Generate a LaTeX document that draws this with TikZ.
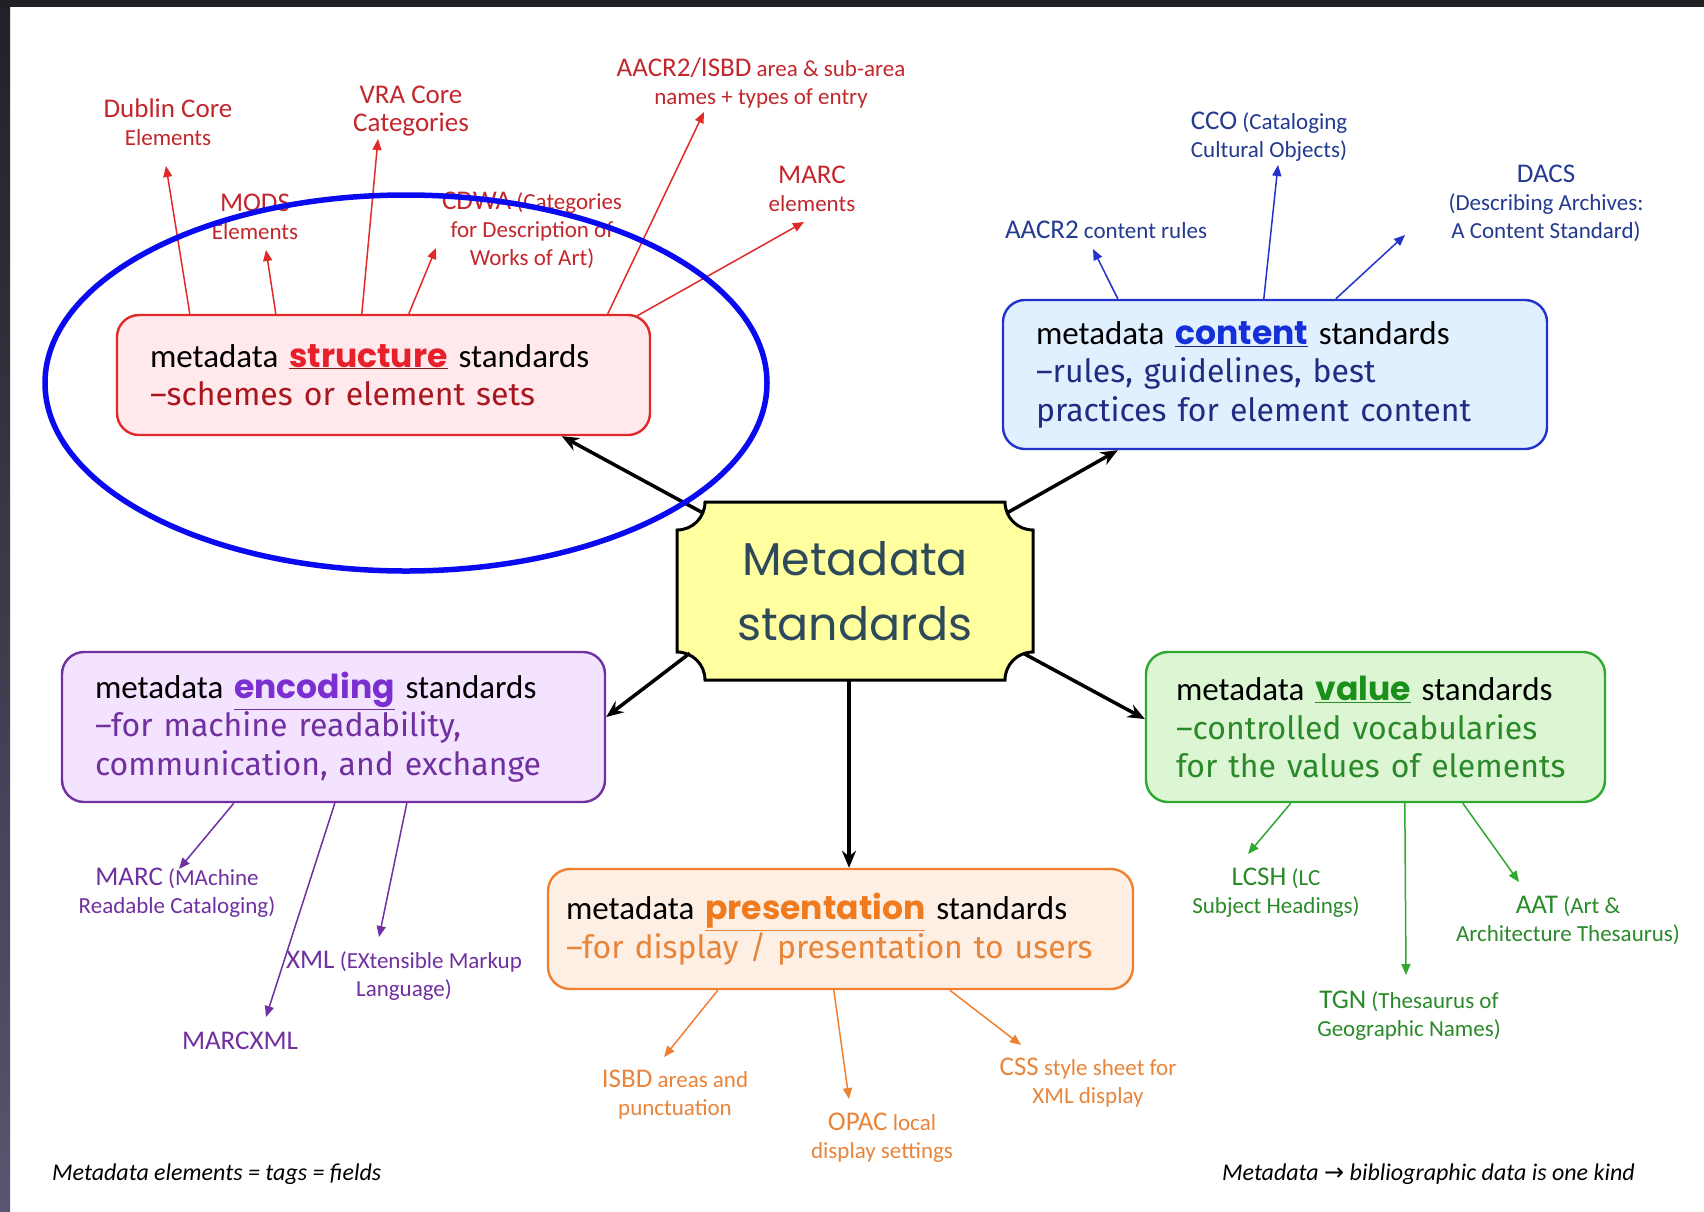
\documentclass[tikz,border=0pt]{standalone}
\usepackage{fontspec}
\setmainfont{Carlito}
\newfontfamily\handfont{Fira Sans}
\newfontfamily\keyfont{Poppins}
\newfontfamily\titlefont{Poppins}
\newfontfamily\symfont{DejaVu Sans}
\usepackage{tikz}
\usetikzlibrary{arrows.meta}
\usetikzlibrary{calc}
\usetikzlibrary{positioning}

\definecolor{strEdge}{HTML}{E02A2A}
\definecolor{strFill}{HTML}{FFE9EC}
\definecolor{strText}{HTML}{A8161E}
\definecolor{strKey}{HTML}{E8202A}
\definecolor{strUl}{HTML}{8B1A1A}
\definecolor{strLbl}{HTML}{C2272D}
\definecolor{conEdge}{HTML}{2233CC}
\definecolor{conFill}{HTML}{E1F0FF}
\definecolor{conText}{HTML}{1F2C80}
\definecolor{conKey}{HTML}{1530D8}
\definecolor{conLbl}{HTML}{233A8F}
\definecolor{encEdge}{HTML}{7030A0}
\definecolor{encFill}{HTML}{F3E3FF}
\definecolor{encText}{HTML}{7030A0}
\definecolor{encKey}{HTML}{7B2FD0}
\definecolor{valEdge}{HTML}{2EA82E}
\definecolor{valFill}{HTML}{DCF6D4}
\definecolor{valText}{HTML}{2A8A2A}
\definecolor{valKey}{HTML}{1A8F1A}
\definecolor{preEdge}{HTML}{F08030}
\definecolor{preFill}{HTML}{FEEFE4}
\definecolor{preText}{HTML}{E8853A}
\definecolor{preKey}{HTML}{F07A1E}
\definecolor{titleText}{HTML}{2E4A5A}
\definecolor{hubFill}{HTML}{FFFFA0}
\definecolor{ringBlue}{HTML}{0A0AF0}
\definecolor{frameDark}{HTML}{222026}
\definecolor{frameGrey}{HTML}{5A5470}

\newcommand{\keyw}[3]{{\color{#1}\underline{\color{#2}\keyfont\bfseries #3}}}
\newcommand{\hand}[2]{{\handfont\fontsize{32}{38.5}\selectfont\color{#1}#2}}
\newcommand{\lw}[1]{{\fontsize{27}{28}\selectfont #1}}

\tikzset{
  box/.style = {rectangle, rounded corners = 22pt, line width = 2.4pt,
    align = left, inner xsep = 33pt, inner ysep = 0pt,
    font = \fontsize{33}{38.5}\selectfont},
  lbl/.style = {align = center, inner sep = 0pt, font = \fontsize{23}{28}\selectfont},
  sarr/.style = {line width = 1.5pt, -{Triangle[length = 11pt, width = 9pt]}},
  bigarr/.style = {line width = 3.5pt, -{Stealth[length = 17pt, width = 14pt]}},
  foot/.style = {inner sep = 0pt, font = \itshape\fontsize{24}{28}\selectfont},
}

\begin{document}
\begin{tikzpicture}[x = 1pt, y = -1pt]
  % frame
  \useasboundingbox (0,0) rectangle (1704,1211);
  \fill[white] (0,0) rectangle (1704,1211);
  \fill[frameDark] (0,0) rectangle (1704,7);
  \shade[top color = frameDark, bottom color = frameGrey] (0,0) rectangle (10,1211);

  % hub
  \draw[line width = 3pt, fill = hubFill]
    (705,502) -- (1005,502) .. controls (1005,517.5) and (1017.5,530) .. (1033,530)
    -- (1033,652) .. controls (1017.5,652) and (1005,664.5) .. (1005,680)
    -- (705,680) .. controls (705,664.5) and (692.5,652) .. (677,652)
    -- (677,530) .. controls (692.5,530) and (705,517.5) .. (705,502) -- cycle;
  \node[minimum width = 356pt, minimum height = 178pt, align = center, text = titleText,
    font = \titlefont\fontsize{46}{65}\selectfont] (meta) at (855,591) {Metadata\\standards};

  % boxes
  \node[box, draw = strEdge, fill = strFill, minimum width = 533pt, minimum height = 120pt,
    text width = 467pt] (sbox) at (383.5,375)
    {metadata \keyw{strUl}{strKey}{structure} standards\\\hand{strText}{–schemes or element sets}};
  \node[box, draw = conEdge, fill = conFill, minimum width = 544pt, minimum height = 149pt,
    text width = 478pt] (cbox) at (1275,374.5)
    {metadata \keyw{conText}{conKey}{content} standards\\\hand{conText}{–rules, guidelines, best}\\\hand{conText}{practices for element content}};
  \node[box, draw = encEdge, fill = encFill, minimum width = 543pt, minimum height = 150pt,
    text width = 477pt] (ebox) at (333.5,727)
    {metadata \keyw{encText}{encKey}{encoding} standards\\\hand{encText}{–for machine readability,}\\\hand{encText}{communication, and exchange}};
  \node[box, draw = valEdge, fill = valFill, minimum width = 459pt, minimum height = 150pt,
    inner xsep = 30pt, text width = 399pt] (vbox) at (1375.5,727)
    {metadata \keyw{valText}{valKey}{value} standards\\\hand{valText}{–controlled vocabularies}\\\hand{valText}{for the values of elements}};
  \node[box, draw = preEdge, fill = preFill, minimum width = 585pt, minimum height = 120pt,
    inner xsep = 18pt, text width = 549pt] (pbox) at (840.5,929)
    {metadata \keyw{preText}{preKey}{presentation} standards\\\hand{preText}{–for display / presentation to users}};

  % hub arrows
  \coordinate (hub-foot) at ($(meta.south)+(-6,0)$);
  \draw[bigarr] ($(meta.north west)+(26,11)$) -- ($(sbox.south west)+(446,0)$);
  \draw[bigarr] ($(meta.north east)+(-26,11)$) -- ($(cbox.south west)+(116,0)$);
  \draw[bigarr] ($(meta.south west)+(13,-27)$) -- ($(ebox.east)+(0,-10)$);
  \draw[bigarr] (hub-foot) -- (hub-foot |- pbox.north);
  \draw[bigarr] ($(meta.south east)+(-10,-27)$) -- ($(vbox.west)+(0,-8)$);

  % structure labels
  \node[lbl, text = strLbl] (dc) at (168,122) {\lw{Dublin Core}\\Elements};
  \node[lbl, text = strLbl] (mods) at (255,217) {\lw{MODS}\\Elements};
  \node[lbl, text = strLbl] (vra) at (411,111) {\lw{VRA Core}\\\lw{Categories}};
  \node[lbl, text = strLbl] (cdwa) at (532,230) {\lw{CDWA} (Categories\\for Description of\\Works of Art)};
  \node[lbl, text = strLbl] (aacr) at (761,83) {\lw{AACR2/ISBD} area \& sub-area\\names + types of entry};
  \node[lbl, text = strLbl] (marc) at (812,189) {\lw{MARC}\\elements};
  \coordinate (dc-tip) at (166,166);
  \coordinate (mods-tip) at (266,250);
  \coordinate (vra-tip) at (378,139);
  \coordinate (cdwa-tip) at (436,248);
  \coordinate (aacr-tip) at (704,112);
  \coordinate (marc-tip) at (804,222);
  \draw[sarr, strEdge] ($(sbox.north west)+(74,0)$) -- (dc-tip);
  \draw[sarr, strEdge] ($(sbox.north west)+(160,0)$) -- (mods-tip);
  \draw[sarr, strEdge] ($(sbox.north west)+(246,0)$) -- (vra-tip);
  \draw[sarr, strEdge] ($(sbox.north west)+(293,0)$) -- (cdwa-tip);
  \draw[sarr, strEdge] ($(sbox.north west)+(492,0)$) -- (aacr-tip);
  \draw[sarr, strEdge] ($(sbox.north east)+(-14,2)$) -- (marc-tip);

  % content labels
  \node[lbl, text = conLbl] (rules) at (1106,230) {\lw{AACR2} content rules};
  \node[lbl, text = conLbl] (cco) at (1269,137) {\lw{CCO} (Cataloging\\Cultural Objects)};
  \node[lbl, text = conLbl] (dacs) at (1546,203) {\lw{DACS}\\(Describing Archives:\\A Content Standard)};
  \coordinate (rules-tip) at (1093,249);
  \coordinate (cco-tip) at (1278,165);
  \coordinate (dacs-tip) at (1405,235);
  \draw[sarr, conEdge] ($(cbox.north west)+(116,0)$) -- (rules-tip);
  \draw[sarr, conEdge] ($(cbox.north west)+(262,0)$) -- (cco-tip);
  \draw[sarr, conEdge] ($(cbox.north west)+(334,0)$) -- (dacs-tip);

  % encoding labels
  \node[lbl, text = encText] (marcm) at (177,893) {\lw{MARC} (MAchine\\Readable Cataloging)};
  \node[lbl, text = encText] (marcxml) at (240,1041) {\lw{MARCXML}};
  \node[lbl, text = encText] (xml) at (404,976) {\lw{XML} (EXtensible Markup\\Language)};
  \coordinate (marcm-tip) at (179,869);
  \coordinate (marcxml-tip) at (266,1017);
  \coordinate (xml-tip) at (379,937);
  \draw[sarr, encEdge] ($(ebox.south west)+(173,0)$) -- (marcm-tip);
  \draw[sarr, encEdge] ($(ebox.south west)+(274,0)$) -- (marcxml-tip);
  \draw[sarr, encEdge] ($(ebox.south west)+(346,0)$) -- (xml-tip);

  % presentation labels
  \node[lbl, text = preText] (isbd) at (675,1095) {\lw{ISBD} areas and\\punctuation};
  \node[lbl, text = preText] (opac) at (882,1138) {\lw{OPAC} local\\display settings};
  \node[lbl, text = preText] (css) at (1088,1083) {\lw{CSS} style sheet for\\XML display};
  \coordinate (isbd-tip) at (664,1057);
  \coordinate (opac-tip) at (849,1099);
  \coordinate (css-tip) at (1021,1045);
  \draw[sarr, preEdge] ($(pbox.south west)+(171,0)$) -- (isbd-tip);
  \draw[sarr, preEdge] ($(pbox.south west)+(287,0)$) -- (opac-tip);
  \draw[sarr, preEdge] ($(pbox.south west)+(403,0)$) -- (css-tip);

  % value labels
  \node[lbl, text = valText] (lcsh) at (1276,893) {\lw{LCSH} (LC\\Subject Headings)};
  \node[lbl, text = valText] (tgn) at (1409,1016) {\lw{TGN} (Thesaurus of\\Geographic Names)};
  \node[lbl, text = valText] (aat) at (1568,920) {\lw{AAT} (Art \&\\Architecture Thesaurus)};
  \coordinate (lcsh-tip) at (1248,854);
  \coordinate (tgn-tip) at (1406,975);
  \coordinate (aat-tip) at (1519,882);
  \draw[sarr, valEdge] ($(vbox.south west)+(146,0)$) -- (lcsh-tip);
  \draw[sarr, valEdge] ($(vbox.south west)+(260,0)$) -- (tgn-tip);
  \draw[sarr, valEdge] ($(vbox.south west)+(318,0)$) -- (aat-tip);

  % notes
  \node[foot, anchor = west] (note-left) at (52,1174) {Metadata elements = tags = fields};
  \node[foot, anchor = east] (note-right) at (1635,1174) {Metadata {\symfont\upshape →} bibliographic data is one kind};

  % ring
  \draw[line width = 5.5pt, ringBlue] (406,383) ellipse [x radius = 361, y radius = 188];
\end{tikzpicture}
\end{document}
